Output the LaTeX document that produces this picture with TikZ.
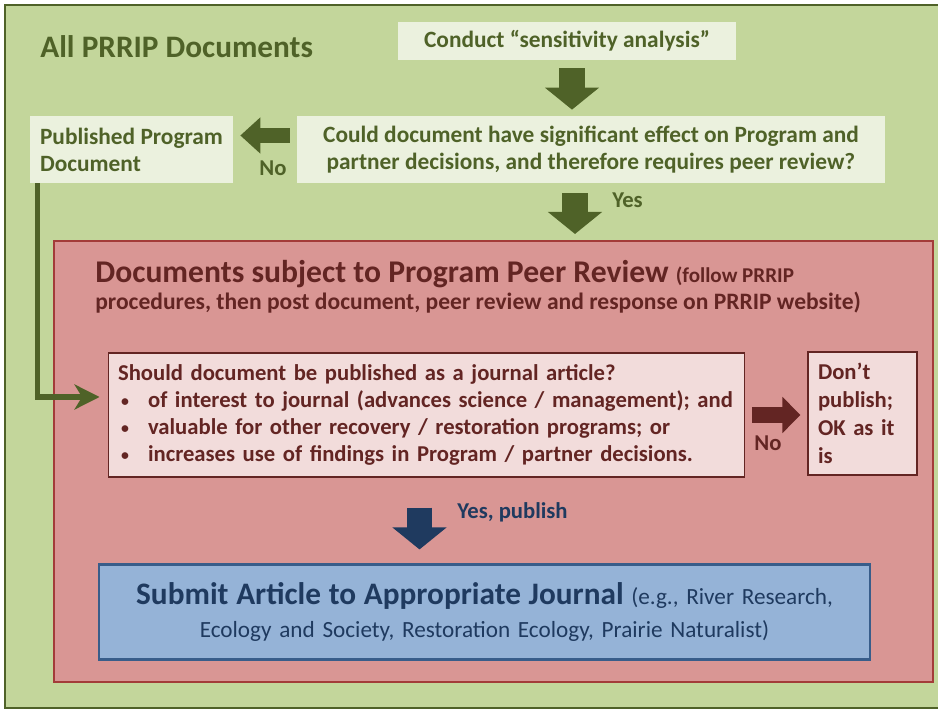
\documentclass[tikz,border=0pt]{standalone}
\usepackage{fontspec}
\setmainfont{Carlito}
\usepackage{xcolor}
\usetikzlibrary{positioning,arrows.meta,calc}
\definecolor{olivebg}{HTML}{C3D69B}
\definecolor{olivedark}{HTML}{4F6228}
\definecolor{olivelight}{HTML}{EBF1DE}
\definecolor{rosebg}{HTML}{D99694}
\definecolor{roseedge}{HTML}{A33C39}
\definecolor{roselight}{HTML}{F2DCDB}
\definecolor{maroontext}{HTML}{632523}
\definecolor{skyfill}{HTML}{95B3D7}
\definecolor{skyedge}{HTML}{385D8A}
\definecolor{navytext}{HTML}{1F3A5F}
\newcommand{\bodyfont}{\fontsize{12.9}{15.2}\selectfont\bfseries}
\newcommand{\greenfont}{\fontsize{13.3}{15.3}\selectfont\bfseries}
\newcommand{\bul}{\hspace*{0.06cm}\makebox[0.54cm][l]{\raisebox{0.6pt}{\fontsize{9}{9}\selectfont\textbullet}}}
\tikzset{
  area/.style    ={draw, rectangle, inner sep=0pt},
  heading/.style ={inner sep=0pt, text=olivedark, font=\fontsize{17.8}{20}\selectfont\bfseries},
  gbox/.style    ={rectangle, fill=olivelight, text=olivedark, font=\greenfont, inner sep=0pt, minimum height=1.34cm},
  rbox/.style    ={draw=maroontext, line width=0.6pt, rectangle, fill=roselight, text=maroontext, font=\bodyfont, inner sep=0pt, align=left},
  bbox/.style    ={draw=skyedge, line width=1.2pt, rectangle, fill=skyfill, text=navytext, font=\fontsize{13.2}{18.5}\selectfont, inner sep=0pt, align=center},
  rtitle/.style  ={inner sep=0pt, text=maroontext, font=\fontsize{18}{20}\selectfont\bfseries},
  glabel/.style  ={inner sep=0pt, text=olivedark, font=\bodyfont},
  rlabel/.style  ={inner sep=0pt, text=maroontext, font=\bodyfont},
  blabel/.style  ={inner sep=0pt, text=navytext, font=\bodyfont},
  greenblk/.style={olivedark, line width=0.52cm, -{Triangle[length=0.44cm, width=1.06cm]}},
  greenside/.style={olivedark, line width=0.3cm, -{Triangle[length=0.4cm, width=0.7cm]}},
  redblk/.style  ={maroontext, line width=0.32cm, -{Triangle[length=0.36cm, width=0.7cm]}},
  blueblk/.style ={navytext, line width=0.5cm, -{Triangle[length=0.44cm, width=1.06cm]}},
  gline/.style   ={olivedark, line width=0.11cm, -{Stealth[length=0.5cm, width=0.5cm, inset=0.15cm]}},
}

\begin{document}
\begin{tikzpicture}[x=0.02cm, y=-0.02cm]
  \useasboundingbox (0,0) rectangle (938,712);

  % outer area: every document
  \node[area, fill=olivebg, draw=olivedark, line width=1pt, minimum width=18.8cm, minimum height=14.06cm] (alldocs) at (475,356.5) {};
  \node[heading, anchor=west] (alltitle) at (40,47) {All PRRIP Documents};

  % screening steps
  \node[gbox, minimum width=6.76cm, minimum height=0.76cm] (conduct) at (567,41) {Conduct “sensitivity analysis”};
  \node[gbox, minimum width=11.76cm, align=center] (question) at (591,149.5)
    {Could document have significant effect on Program and\\partner decisions, and therefore requires peer review?};
  \node[gbox, minimum width=4.06cm, align=left] (pub) at (131.5,149.5) {Published Program\\Document};

  % peer review area
  \node[area, fill=rosebg, draw=roseedge, line width=1.2pt, minimum width=17.58cm, minimum height=8.82cm] (peer) at (493.5,461.5) {};
  \node[rtitle, anchor=base west] (peertitle) at (95,283)
    {Documents subject to Program Peer Review {\fontsize{12}{14}\selectfont (follow PRRIP}};
  \node[rtitle, font=\fontsize{13.4}{15}\selectfont\bfseries, anchor=base west] (peersub) at (95,310)
    {procedures, then post document, peer review and response on PRRIP website)};

  \node[rbox, minimum width=12.74cm, minimum height=2.48cm, text width=12.34cm] (journalq) at (426.5,415)
    {Should document be published as a journal article?\\
     \bul of interest to journal (advances science / management); and\\
     \bul valuable for other recovery / restoration programs; or\\
     \bul increases use of findings in Program / partner decisions.};
  \node[rbox, font=\fontsize{12.9}{16}\selectfont\bfseries, minimum width=2.18cm, minimum height=2.46cm, text width=1.78cm] (dontpub) at (862.5,413.5)
    {Don’t\\publish;\\OK as it\\is};

  \node[bbox, minimum width=15.42cm, minimum height=1.9cm, text width=15.2cm] (submit) at (484.5,612)
    {{\fontsize{17.8}{18}\selectfont\bfseries Submit Article to Appropriate Journal} (e.g., River Research,\\
     Ecology and Society, Restoration Ecology, Prairie Naturalist)};

  % block arrows
  \coordinate (c1) at ([xshift=0.1cm]conduct.south);
  \draw[greenblk, shorten <=0.16cm, shorten >=0.12cm] (c1) -- (c1 |- question.north);
  \draw[greenside, shorten <=0.14cm, shorten >=0.14cm] ([yshift=0.28cm]question.west) -- ([yshift=0.28cm]pub.east);
  \coordinate (c2) at ([xshift=-0.32cm]question.south);
  \draw[greenblk, shorten <=0.2cm, shorten >=0.12cm] (c2) -- (c2 |- peer.north);
  \draw[redblk, shorten <=0.14cm, shorten >=0.14cm] (journalq.east) -- (journalq.east -| dontpub.west);
  \coordinate (c3) at ([xshift=-0.14cm]journalq.south);
  \draw[blueblk, shorten <=0.6cm, shorten >=0.28cm] (c3) -- (c3 |- submit.north);

  % published documents go straight to the journal question
  \draw[gline, shorten >=0.16cm] ([xshift=0.16cm]pub.south west) |- ([yshift=0.36cm]journalq.west);

  % arrow labels
  \node[glabel] (nolbl) at (273,168) {No};
  \node[glabel] (yeslbl) at (627.5,200) {Yes};
  \node[rlabel] (nored) at (768,443) {No};
  \node[blabel] (yespub) at (512.5,512) {Yes, publish};
\end{tikzpicture}
\end{document}
